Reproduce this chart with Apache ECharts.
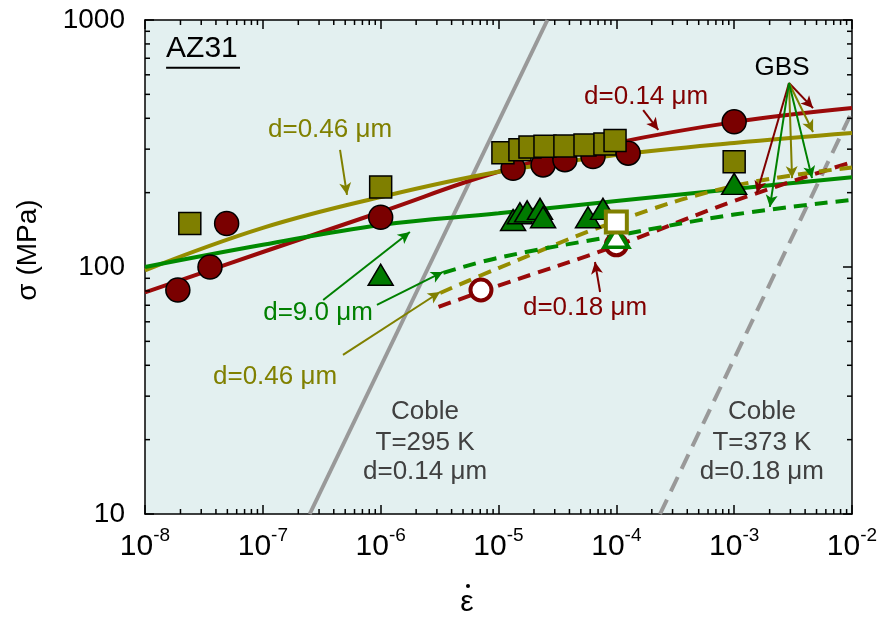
<!DOCTYPE html>
<html><head><meta charset="utf-8">
<script src="https://cdn.jsdelivr.net/npm/echarts@6/dist/echarts.min.js"></script>
<style>html,body{margin:0;padding:0;background:#fff}#c{width:880px;height:618px}</style>
</head><body><div id="c"></div>
<script>
// ---- data (strain rate ε̇ in s^-1, stress σ in MPa) ----
const xTickExp = [-8,-7,-6,-5,-4,-3,-2];
const yTickVals = [10,100,1000];
const fitEps = [1e-8,1e-7,1e-6,1e-5,1e-4,1e-3,1e-2];
const fit014 = [79,115,167,243,318,386,440];     // d=0.14 µm solid
const fit046 = [97,144,192,243,284,318,349];     // d=0.46 µm solid
const fit90  = [100,123,148,165,185,207,231];    // d=9.0 µm solid
const dashEps018 = [3.1e-6,1e-5,1e-4,1e-3,1e-2];
const dash018 = [69,84,122,185,266];
const dashEps046 = [3.2e-6,1e-5,1e-4,1e-3,1e-2];
const dash046 = [78.5,99,153,213,253];
const dashEps90 = [3.4e-6,1e-5,1e-4,1e-3,1e-2];
const dash90 = [94.6,109,134,163,187];
const coble295 = [[2.5e-7,10],[2.6e-5,1000]];
const coble373 = [[2.35e-4,10],[1e-2,425]];
const circles014 = [[1.9e-8,80.7],[3.56e-8,100],[4.93e-8,150],[1e-6,159],[1.33e-5,251],[2.39e-5,259],[3.66e-5,272],[6.34e-5,280],[1.26e-4,289],[1e-3,387]];
const squares046 = [[2.4e-8,150],[1e-6,211],[1.09e-5,290],[1.52e-5,298],[1.85e-5,306],[2.48e-5,308],[3.66e-5,309],[5.42e-5,312],[8.0e-5,315],[9.75e-5,325],[1e-3,267]];
const triangles90 = [[1e-6,93],[1.33e-5,155],[1.52e-5,165],[1.75e-5,168],[2.25e-5,172],[2.39e-5,159],[5.75e-5,159],[7.7e-5,172],[1e-3,217]];
const openCircles018 = [[7.1e-6,80.7],[1e-4,123]];
const openSquares046 = [[1e-4,152]];
const openTriangles90 = [[1e-4,132]];

const RED='#800000', RED_L='#9a0a0a', OLV='#808000', OLV_L='#958d00', GRN='#008000', GRN_L='#008a00', GRAY='#999999';
const FONT='Liberation Sans, Arial, sans-serif';

// arrows in data coordinates [from, to]
const arrowsRed = [[[1.69e-4,432],[2.27e-4,359]],[[7.28e-5,79.2],[6.59e-5,104.8]],[[2.92e-3,556],[4.67e-3,440]],[[2.92e-3,556],[1.56e-3,199.5]]];
const arrowsOlive = [[[4.52e-7,298],[5.18e-7,196]],[[4.79e-7,44.1],[3.19e-6,79.2]],[[2.92e-3,556],[4.67e-3,352]],[[2.92e-3,556],[3.10e-3,229]]];
const arrowsGreen = [[[3.25e-7,73.5],[1.77e-6,138.6]],[[9.3e-7,70.2],[3.38e-6,95.5]],[[2.92e-3,556],[2.01e-3,175]],[[2.92e-3,556],[4.58e-3,229]]];

const texts = [
  {t:'d=0.46 μm', e:3.72e-7, s:359, c:OLV},
  {t:'d=0.14 μm', e:1.79e-4, s:488, c:RED},
  {t:'GBS', e:2.55e-3, s:640, c:'#000'},
  {t:'d=9.0 μm', e:2.94e-7, s:65.2, c:GRN},
  {t:'d=0.46 μm', e:1.27e-7, s:35.9, c:OLV},
  {t:'d=0.18 μm', e:5.42e-5, s:68.2, c:RED},
  {t:'Coble', e:2.38e-6, s:25.9, c:'#404040'},
  {t:'T=295 K', e:2.38e-6, s:19.5, c:'#404040'},
  {t:'d=0.14 μm', e:2.38e-6, s:14.8, c:'#404040'},
  {t:'Coble', e:1.72e-3, s:25.9, c:'#404040'},
  {t:'T=373 K', e:1.72e-3, s:19.5, c:'#404040'},
  {t:'d=0.18 μm', e:1.72e-3, s:14.8, c:'#404040'}
];

const minorX = [], minorY = [];
for (let k=-8;k<=-3;k++) for (let m=2;m<=9;m++) minorX.push([m*Math.pow(10,k),10]);
for (let k=1;k<=2;k++) for (let m=2;m<=9;m++) minorY.push([1e-8,m*Math.pow(10,k)]);

const zip = (xs, ys) => xs.map((x,i)=>[x,ys[i]]);
const arrowML = (list,color) => ({
  silent:true, symbol:['none','arrow'], symbolSize:[9,12], animation:false,
  label:{show:false}, emphasis:{disabled:true},
  lineStyle:{color:color,width:2,type:'solid'},
  data: list.map(a=>[{coord:a[0]},{coord:a[1]}])
});

const chart = echarts.init(document.getElementById('c'), null, {renderer:'canvas'});
const axLine = {show:true,onZero:false,lineStyle:{color:'#000',width:1.5}};
const axTick = {show:true,inside:true,length:9,lineStyle:{color:'#000',width:1.5}};
const xLabel = {
  show:true, margin:12, color:'#000',
  formatter: v => '{b|10}{s|' + Math.round(Math.log10(v)) + '}',
  rich:{ b:{fontSize:30,fontFamily:FONT,lineHeight:42,color:'#000'}, s:{fontSize:19,fontFamily:FONT,lineHeight:19,verticalAlign:'top',color:'#000'} }
};
const lineS = (name,data,color,type,z) => ({name,type:'line',data,showSymbol:false,symbol:'none',smooth:0.4,
  lineStyle:{color,width:4,type:type,cap:'butt'},z:z||2,silent:true,animation:false});

const option = {
  animation:false,
  grid:{left:145,right:28,top:20,bottom:104,show:true,backgroundColor:'#e3f0f0',borderWidth:0,containLabel:false,outerBoundsMode:'none'},
  xAxis:[
    {type:'log',logBase:10,min:1e-8,max:1e-2,splitNumber:6,position:'bottom',axisLine:axLine,axisTick:axTick,splitLine:{show:false},minorTick:{show:false},axisLabel:xLabel},
    {type:'log',logBase:10,min:1e-8,max:1e-2,splitNumber:6,position:'top',axisLine:axLine,axisTick:axTick,splitLine:{show:false},axisLabel:{show:false}}
  ],
  yAxis:[
    {type:'log',logBase:10,min:10,max:1000,splitNumber:2,position:'left',axisLine:axLine,axisTick:axTick,splitLine:{show:false},minorTick:{show:false},
     axisLabel:{show:true,margin:20,color:'#000',fontSize:28,fontFamily:FONT,formatter:v=>String(Math.round(v))}},
    {type:'log',logBase:10,min:10,max:1000,splitNumber:2,position:'right',axisLine:axLine,axisTick:axTick,splitLine:{show:false},axisLabel:{show:false}}
  ],
  series:[
    {type:'custom',data:minorX,clip:false,silent:true,z:10,renderItem:(p,api)=>{
      const v=api.value(0), b=api.coord([v,10]), t=api.coord([v,1000]);
      return {type:'group',children:[
        {type:'line',shape:{x1:b[0],y1:b[1],x2:b[0],y2:b[1]-5},style:{stroke:'#000',lineWidth:1.5}},
        {type:'line',shape:{x1:t[0],y1:t[1],x2:t[0],y2:t[1]+5},style:{stroke:'#000',lineWidth:1.5}}]};
    }},
    {type:'custom',data:minorY,clip:false,silent:true,z:10,renderItem:(p,api)=>{
      const v=api.value(1), l=api.coord([1e-8,v]), r=api.coord([1e-2,v]);
      return {type:'group',children:[
        {type:'line',shape:{x1:l[0],y1:l[1],x2:l[0]+5,y2:l[1]},style:{stroke:'#000',lineWidth:1.5}},
        {type:'line',shape:{x1:r[0],y1:r[1],x2:r[0]-5,y2:r[1]},style:{stroke:'#000',lineWidth:1.5}}]};
    }},
    {name:'coble295',type:'line',data:coble295,symbol:'none',lineStyle:{color:GRAY,width:4},silent:true,z:1},
    {name:'coble373',type:'line',data:coble373,symbol:'none',lineStyle:{color:GRAY,width:4,type:[16,9]},silent:true,z:1},
    Object.assign(lineS('fit014',zip(fitEps,fit014),RED_L,'solid'),{markLine:arrowML(arrowsRed,RED)}),
    Object.assign(lineS('fit046',zip(fitEps,fit046),OLV_L,'solid'),{markLine:arrowML(arrowsOlive,OLV)}),
    Object.assign(lineS('fit90',zip(fitEps,fit90),GRN_L,'solid'),{markLine:arrowML(arrowsGreen,GRN)}),
    lineS('dash018',zip(dashEps018,dash018),RED_L,[13,8]),
    lineS('dash046',zip(dashEps046,dash046),OLV_L,[13,8]),
    lineS('dash90',zip(dashEps90,dash90),GRN_L,[13,8]),
    {name:'c014',type:'scatter',data:circles014,symbol:'circle',symbolSize:24,itemStyle:{color:'#7a0000',borderColor:'#000',borderWidth:1.5,opacity:1},silent:true,z:4},
    {name:'t90',type:'scatter',data:triangles90,symbol:'triangle',symbolSize:[25,21],itemStyle:{color:'#007a00',borderColor:'#000',borderWidth:1.5,opacity:1},silent:true,z:4},
    {name:'s046',type:'scatter',data:squares046,symbol:'rect',symbolSize:22,itemStyle:{color:'#7f7f00',borderColor:'#000',borderWidth:1.5,opacity:1},silent:true,z:5},
    {name:'oc018',type:'scatter',data:openCircles018,symbol:'circle',symbolSize:21,itemStyle:{color:'#fff',borderColor:RED,borderWidth:4,opacity:1},silent:true,z:5},
    {name:'ot90',type:'scatter',data:openTriangles90,symbol:'triangle',symbolSize:[24,20],itemStyle:{color:'#fff',borderColor:GRN,borderWidth:4,opacity:1},silent:true,z:5},
    {name:'os046',type:'scatter',data:openSquares046,symbol:'rect',symbolSize:21,itemStyle:{color:'#fff',borderColor:OLV,borderWidth:4,opacity:1},silent:true,z:6}
  ]
};
chart.setOption(option);

const px = (e,s) => chart.convertToPixel({xAxisIndex:0,yAxisIndex:0},[e,s]);
const g = texts.map(o=>{const p=px(o.e,o.s);return {type:'text',x:p[0],y:p[1],z:100,silent:true,
  style:{text:o.t,fill:o.c,font:'26px '+FONT,textAlign:'center',textVerticalAlign:'middle'}};});
const az = px(1.51e-8,764), u1 = px(1.51e-8,640), u2 = px(6.4e-8,640);
g.push({type:'text',x:az[0],y:az[1],z:100,silent:true,style:{text:'AZ31',fill:'#000',font:'30px '+FONT,textAlign:'left',textVerticalAlign:'middle'}});
g.push({type:'line',z:100,silent:true,shape:{x1:u1[0],y1:u1[1],x2:u2[0],y2:u2[1]},style:{stroke:'#000',lineWidth:2}});
g.push({type:'text',x:28,y:250,rotation:Math.PI/2,z:100,silent:true,style:{text:'σ (MPa)',fill:'#000',font:'28px '+FONT,textAlign:'center',textVerticalAlign:'middle'}});
g.push({type:'text',x:467,y:603,z:100,silent:true,style:{text:'ε',fill:'#000',font:'30px '+FONT,textAlign:'center',textVerticalAlign:'middle'}});
g.push({type:'circle',z:100,silent:true,shape:{cx:468,cy:586,r:2},style:{fill:'#000'}});
chart.setOption({graphic:g});
</script></body></html>
